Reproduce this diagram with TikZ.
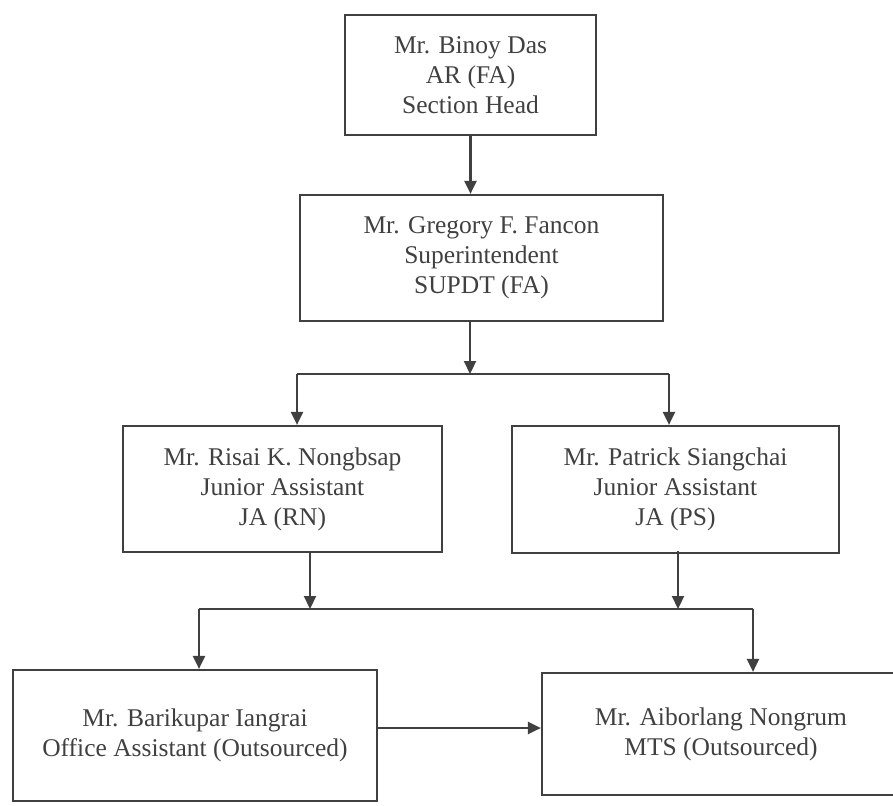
\documentclass[tikz,border=0pt]{standalone}
\usepackage{fontspec}
\setmainfont{Liberation Serif}
\usetikzlibrary{arrows.meta}
\definecolor{ink}{HTML}{404040}
\tikzset{
  post/.style={draw=ink, line width=2.2pt, text=ink, align=center, inner sep=0pt,
    font=\fontsize{25.5}{30}\selectfont},
  link/.style={draw=ink, line width=2.2pt},
  tolink/.style={link, -{Triangle[length=13pt,width=12pt]}}
}
\begin{document}
\begin{tikzpicture}[x=1pt,y=-1pt]
\useasboundingbox (0,0) rectangle (893,805);

\node[post, minimum width=251pt, minimum height=120pt] (binoy) at (470.5,75) {Mr. Binoy Das\\AR (FA)\\Section Head};
\node[post, minimum width=363pt, minimum height=126pt] (gregory) at (481.5,258) {Mr. Gregory F. Fancon\\Superintendent\\SUPDT (FA)};
\node[post, minimum width=319pt, minimum height=126pt] (risai) at (282.5,489) {Mr. Risai K. Nongbsap\\Junior Assistant\\JA (RN)};
\node[post, minimum width=327pt, minimum height=127pt] (patrick) at (675.5,489.5) {Mr. Patrick Siangchai\\Junior Assistant\\JA (PS)};
\node[post, minimum width=364pt, minimum height=131pt] (barik) at (195,735.5) {Mr. Barikupar Iangrai\\Office Assistant (Outsourced)};
\node[post, minimum width=358pt, minimum height=122pt] (aibor) at (721,734) {Mr. Aiborlang Nongrum\\MTS (Outsourced)};

\coordinate (hubA) at (470,374);
\coordinate (barL) at (297,374);
\coordinate (barR) at (669,374);
\coordinate (tapL) at (310,609);
\coordinate (tapR) at (678,609);
\coordinate (bar2L) at (199,609);
\coordinate (bar2R) at (753,609);
\coordinate (sideA) at (377,728);

\draw[tolink] (binoy.south) -- (binoy.south |- gregory.north);
\draw[tolink] (hubA |- gregory.south) -- (hubA);
\draw[link] (barL) -- (barR);
\draw[tolink] (barL) -- (barL |- risai.north);
\draw[tolink] (barR) -- (barR |- patrick.north);

\draw[tolink] (tapL |- risai.south) -- (tapL);
\draw[tolink] ([yshift=3pt]tapR |- patrick.south) -- (tapR);
\draw[link] (bar2L) -- (bar2R);
\draw[tolink] (bar2L) -- (bar2L |- barik.north);
\draw[tolink] (bar2R) -- (bar2R |- aibor.north);

\draw[tolink] (sideA) -- (sideA -| aibor.west);
\end{tikzpicture}
\end{document}
